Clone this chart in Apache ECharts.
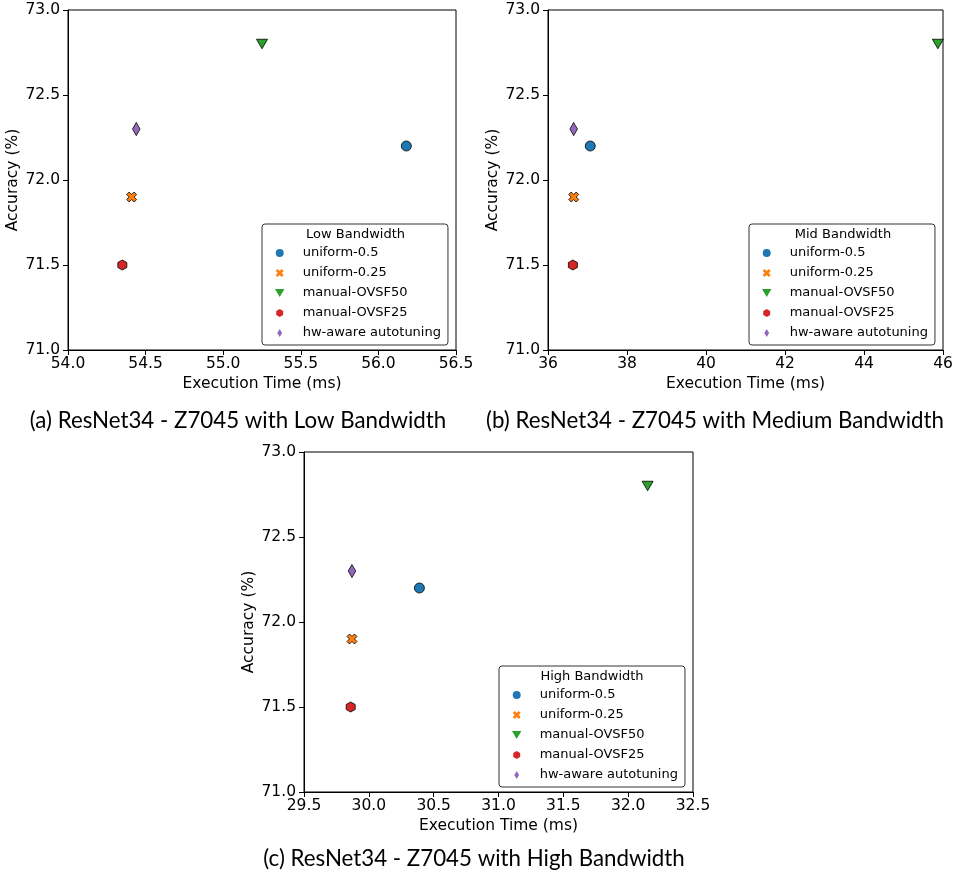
<!DOCTYPE html>
<html>
<head>
<meta charset="utf-8">
<title>ResNet34 - Z7045</title>
<script src="https://cdn.jsdelivr.net/npm/echarts@6/dist/echarts.min.js"></script>
<style>
  body { margin: 0; background: #fff; }
  #chart { width: 958px; height: 883px; }
</style>
</head>
<body>
<div id="chart"></div>
<script>
// data
var methods = ['uniform-0.5', 'uniform-0.25', 'manual-OVSF50', 'manual-OVSF25', 'hw-aware autotuning'];
var accuracy = [72.2, 71.9, 72.8, 71.5, 72.3];
var timeLow = [56.18, 54.41, 55.25, 54.35, 54.44];
var timeMid = [37.07, 36.65, 45.87, 36.63, 36.65];
var timeHigh = [30.39, 29.87, 32.15, 29.86, 29.87];
var legendTitles = ['Low Bandwidth', 'Mid Bandwidth', 'High Bandwidth'];
var captions = ['(a) ResNet34 - Z7045 with Low Bandwidth',
                '(b) ResNet34 - Z7045 with Medium Bandwidth',
                '(c) ResNet34 - Z7045 with High Bandwidth'];

var colors = ['#1f77b4', '#ff7f0e', '#2ca02c', '#d62728', '#9467bd'];
var xPath = 'path://M0 2.5L2.5 0L5 2.5L7.5 0L10 2.5L7.5 5L10 7.5L7.5 10L5 7.5L2.5 10L0 7.5L2.5 5Z';
var triDown = 'path://M0 0L10 0L5 8.5Z';
var hexPath = 'path://M5 0L9.33 2.5L9.33 7.5L5 10L0.67 7.5L0.67 2.5Z';
var thinDiamond = 'path://M3 0L6 5L3 10L0 5Z';
var symbols = ['circle', xPath, triDown, hexPath, thinDiamond];
var sizes = [10, 10, [11, 9.5], [9, 10], [7.5, 13]];

var FONT = 'DejaVu Sans';

// layout of each panel (plot box, legend box, caption position)
var panels = [
  { time: timeLow, min: 54, max: 56.5, step: 0.5, digits: 1,
    grid: { left: 68, top: 10, width: 388, height: 340 },
    legend: { x: 262, y: 224, w: 187 }, cap: { x: 238, y: 421 } },
  { time: timeMid, min: 36, max: 46, step: 2, digits: 0,
    grid: { left: 548, top: 10, width: 395, height: 340 },
    legend: { x: 749, y: 224, w: 188 }, cap: { x: 715, y: 421 } },
  { time: timeHigh, min: 29.5, max: 32.5, step: 0.5, digits: 1,
    grid: { left: 304, top: 452, width: 389, height: 340 },
    legend: { x: 499, y: 666, w: 186 }, cap: { x: 474, y: 859 } }
];

var grids = [], xAxes = [], yAxes = [], series = [], legends = [], graphics = [];

panels.forEach(function (p, i) {
  grids.push({
    left: p.grid.left, top: p.grid.top, width: p.grid.width, height: p.grid.height,
    show: true, borderColor: '#000', borderWidth: 1, backgroundColor: 'transparent'
  });
  xAxes.push({
    gridIndex: i, type: 'value', min: p.min, max: p.max, interval: p.step,
    name: 'Execution Time (ms)', nameLocation: 'middle', nameGap: 26,
    nameTextStyle: { fontFamily: FONT, fontSize: 15.5, color: '#000' },
    axisLine: { show: true, onZero: false, lineStyle: { color: '#000', width: 1 } },
    axisTick: { show: true, length: 5, lineStyle: { color: '#000' } },
    axisLabel: {
      color: '#000', fontFamily: FONT, fontSize: 15.5, margin: 6,
      formatter: (function (d) { return function (v) { return v.toFixed(d); }; })(p.digits)
    },
    splitLine: { show: false }
  });
  yAxes.push({
    gridIndex: i, type: 'value', min: 71, max: 73, interval: 0.5,
    name: 'Accuracy (%)', nameLocation: 'middle', nameGap: 47,
    nameTextStyle: { fontFamily: FONT, fontSize: 15.5, color: '#000' },
    axisLine: { show: true, onZero: false, lineStyle: { color: '#000', width: 1 } },
    axisTick: { show: true, length: 5, lineStyle: { color: '#000' } },
    axisLabel: {
      color: '#000', fontFamily: FONT, fontSize: 15.5, margin: 8,
      formatter: function (v) { return v.toFixed(1); }
    },
    splitLine: { show: false }
  });

  methods.forEach(function (m, k) {
    series.push({
      type: 'scatter', name: m, xAxisIndex: i, yAxisIndex: i,
      data: [[p.time[k], accuracy[k]]],
      symbol: symbols[k], symbolSize: sizes[k],
      itemStyle: { color: colors[k], borderColor: '#000', borderWidth: 0.8, opacity: 1 },
      emphasis: { disabled: true }
    });
  });

  legends.push({
    orient: 'vertical', left: p.legend.x, top: p.legend.y,
    data: methods, selectedMode: false,
    itemWidth: 36, itemHeight: 8, itemGap: 6,
    padding: [22, 7, 5, 13],
    borderColor: '#333', borderWidth: 1, borderRadius: 3,
    backgroundColor: 'rgba(255,255,255,0.8)',
    itemStyle: { borderWidth: 0 },
    textStyle: { fontFamily: FONT, fontSize: 13, color: '#000', lineHeight: 14 }
  });

  graphics.push({
    type: 'text', x: p.legend.x + p.legend.w / 2, y: p.legend.y + 11, z: 100,
    style: { text: legendTitles[i], font: '13px "DejaVu Sans"', fill: '#000',
             align: 'center', verticalAlign: 'middle' }
  });
  graphics.push({
    type: 'text', x: p.cap.x, y: p.cap.y,
    style: { text: captions[i], font: '22.3px Lato', fill: '#000',
             align: 'center', verticalAlign: 'middle' }
  });
});

var chart = echarts.init(document.getElementById('chart'));
chart.setOption({
  animation: false,
  grid: grids,
  xAxis: xAxes,
  yAxis: yAxes,
  legend: legends,
  series: series,
  graphic: graphics
});
</script>
</body>
</html>
